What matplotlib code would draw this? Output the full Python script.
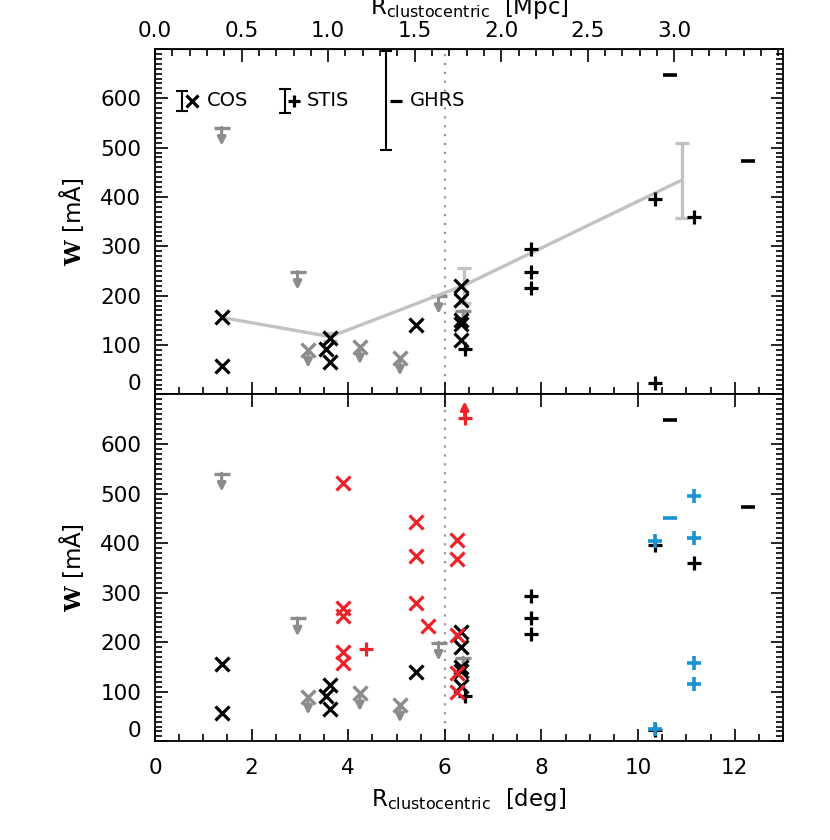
import matplotlib
matplotlib.use("Agg")
import matplotlib.pyplot as plt
from matplotlib.ticker import MultipleLocator, FixedLocator, FormatStrFormatter

plt.rcParams['font.family'] = ['DejaVu Sans']
plt.rcParams['mathtext.fontset'] = 'custom'
plt.rcParams['mathtext.rm'] = 'DejaVu Serif'
plt.rcParams['mathtext.bf'] = 'DejaVu Serif:bold'
plt.rcParams['mathtext.sf'] = 'DejaVu Sans'

# --- data (deg, mA) ---
cos_x = [1.38, 1.38, 3.53, 3.63, 3.63, 5.40, 6.33, 6.33, 6.33, 6.33, 6.33]
cos_w = [156, 58, 92, 114, 66, 140, 220, 191, 150, 142, 111]
stis_x = [6.42, 7.78, 7.78, 7.78, 10.36, 10.36, 11.15]
stis_w = [92, 294, 248, 216, 396, 24, 360]
ghrs_x = [10.66, 12.28]
ghrs_w = [648, 473]

lim_x = [1.38, 2.95, 5.87, 6.38]          # gray upper limits (bar + arrow)
lim_w = [540, 248, 199, 169]
limx_x = [3.17, 4.24, 5.07]               # gray X upper limits
limx_w = [90, 97, 74]

red_x_x = [3.89, 3.89, 3.89, 3.89, 3.89, 5.40, 5.40, 5.40, 5.66, 6.25, 6.25, 6.25, 6.25, 6.25]
red_x_w = [521, 270, 252, 180, 158, 442, 374, 279, 233, 407, 368, 214, 137, 99]
red_p_x = [4.37]
red_p_w = [186]
red_low_x = [6.41]                        # lower limit
red_low_w = [652]
cyan_p_x = [10.36, 11.15, 11.15, 11.15, 11.15, 10.36]
cyan_p_w = [404, 496, 410, 158, 116, 26]
cyan_m_x = [10.66]
cyan_m_w = [450]

mean_x = [1.38, 3.63, 6.40, 10.90]
mean_w = [156, 117, 221, 434]
mean_err = [0, 8, 35, 76]

leg_names = ['COS', 'STIS', 'GHRS']
leg_mark = ['x', '+', '_']
leg_err = [20, 24, 100]
leg_bar_x = [0.55, 2.69, 4.78]
leg_mark_x = [0.76, 2.88, 4.99]
leg_text_x = [1.07, 3.14, 5.28]
leg_y = 595

mpc_ticks = [0.0, 0.5, 1.0, 1.5, 2.0, 2.5, 3.0]
split_deg = 6.0
mpc_per_deg = 0.279

GRAY = '#8c8c8c'
LGRAY = '#c2c2c2'
RED = '#ee2229'
CYAN = '#1b92d2'

fig = plt.figure(figsize=(8.3, 8.4), dpi=100)
ax1 = fig.add_axes([155/830, 1-394.4/840, 628/830, (394.4-48.9)/840])
ax2 = fig.add_axes([155/830, 1-741.4/840, 628/830, (741.4-394.4)/840])

TS = 15.5
LS = 16.5
MS = 10


def style(ax):
    ax.set_xlim(0, 13)
    ax.set_ylim(0, 700)
    ax.xaxis.set_major_locator(MultipleLocator(2))
    ax.xaxis.set_minor_locator(MultipleLocator(0.5))
    ax.yaxis.set_major_locator(FixedLocator(range(0, 701, 100)))
    ax.yaxis.set_minor_locator(MultipleLocator(10))
    ax.set_yticklabels(['0', '100', '200', '300', '400', '500', '600', ''])
    ax.tick_params(which='both', direction='in', right=True, labelsize=TS, width=1.2)
    ax.tick_params(axis='y', pad=10)
    ax.tick_params(which='major', length=9)
    ax.tick_params(which='minor', length=5)
    for s in ax.spines.values():
        s.set_linewidth(1.3)
    ax.yaxis.get_major_ticks()[0].label1.set_verticalalignment('bottom')
    ax.set_ylabel(r'$\mathbf{W}$ [mÅ]', fontsize=LS, labelpad=10)
    ax.axvline(split_deg, color='#999999', ls=(0, (1, 3)), lw=1.6, zorder=1)


def down_arrow(ax, x, w, color):
    ax.annotate('', xy=(x, w - 36), xytext=(x, w + 1),
                arrowprops=dict(arrowstyle='-|>', color=color, lw=2.2, mutation_scale=12,
                                shrinkA=0, shrinkB=0), zorder=2)


def common(ax):
    for x, w in zip(lim_x, lim_w):
        ax.plot(x, w, marker='_', color=GRAY, ms=11, mew=2.4, zorder=2)
        down_arrow(ax, x, w, GRAY)
    for x, w in zip(limx_x, limx_w):
        ax.plot(x, w, marker='x', color=GRAY, ms=MS, mew=2.4, zorder=2)
        down_arrow(ax, x, w, GRAY)
    ax.plot(cos_x, cos_w, 'x', color='black', ms=MS, mew=2.3, zorder=4)
    ax.plot(stis_x, stis_w, '+', color='black', ms=MS, mew=2.3, zorder=4)
    ax.plot(ghrs_x, ghrs_w, '_', color='black', ms=MS, mew=2.6, zorder=4)


style(ax1)
style(ax2)
ax1.tick_params(labelbottom=False, top=False)
ax2.tick_params(top=True)

# top panel
ax1.plot(mean_x, mean_w, color=LGRAY, lw=2.4, zorder=3)
ax1.errorbar(mean_x[1:], mean_w[1:], yerr=mean_err[1:], fmt='none', ecolor=LGRAY,
             elinewidth=2.4, capsize=5, capthick=2.4, zorder=3)
common(ax1)
for nm, mk, er, bx, mx, tx in zip(leg_names, leg_mark, leg_err, leg_bar_x, leg_mark_x, leg_text_x):
    ax1.errorbar([bx], [leg_y], yerr=[er], fmt='none', ecolor='black', elinewidth=1.5, capsize=4, capthick=1.5)
    ax1.plot(mx, leg_y, marker=mk, color='black', ms=8, mew=2.3)
    ax1.text(tx, leg_y, nm, fontsize=14, va='center', ha='left')

sec = ax1.secondary_xaxis('top', functions=(lambda d: d * mpc_per_deg, lambda m: m / mpc_per_deg))
sec.xaxis.set_major_locator(FixedLocator(mpc_ticks))
sec.xaxis.set_minor_locator(MultipleLocator(0.1))
sec.xaxis.set_major_formatter(FormatStrFormatter('%.1f'))
sec.tick_params(which='both', direction='in', labelsize=TS, width=1.2, pad=6)
sec.tick_params(which='major', length=9)
sec.tick_params(which='minor', length=5)
sec.set_xlabel(r'R$_{\mathsf{clustocentric}}$  [Mpc]', fontsize=LS, labelpad=5)

# bottom panel
common(ax2)
ax2.plot(red_x_x, red_x_w, 'x', color=RED, ms=MS, mew=2.3, zorder=5)
ax2.plot(red_p_x, red_p_w, '+', color=RED, ms=MS, mew=2.3, zorder=5)
for x, w in zip(red_low_x, red_low_w):
    ax2.plot(x, w, '+', color=RED, ms=MS, mew=2.3, zorder=5)
    ax2.annotate('', xy=(x, w + 34), xytext=(x, w),
                 arrowprops=dict(arrowstyle='-|>', color=RED, lw=2.2, mutation_scale=12,
                                 shrinkA=0, shrinkB=0), zorder=5)
ax2.plot(cyan_p_x, cyan_p_w, '+', color=CYAN, ms=MS, mew=2.6, zorder=5)
ax2.plot(cyan_m_x, cyan_m_w, '_', color=CYAN, ms=MS, mew=2.6, zorder=5)
ax2.set_xlabel(r'R$_{\mathsf{clustocentric}}$  [deg]', fontsize=LS, labelpad=6)
ax2.tick_params(axis='x', pad=12)

fig.savefig('out.png', dpi=100)
